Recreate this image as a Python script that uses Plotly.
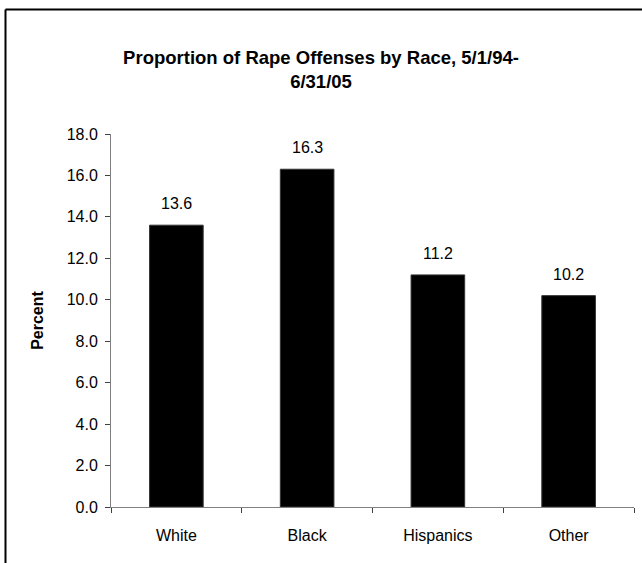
import plotly.graph_objects as go

# Data
categories = ["White", "Black", "Hispanics", "Other"]
percent = [13.6, 16.3, 11.2, 10.2]
y_ticks = [0, 2, 4, 6, 8, 10, 12, 14, 16, 18]

W, H = 642, 563
ML, MR, MT, MB = 111, 8, 134, 56
FONT = "Liberation Sans, Arial, sans-serif"

fig = go.Figure()
fig.add_trace(go.Bar(
    x=categories,
    y=percent,
    width=0.41,
    marker=dict(color="black", line=dict(color="#333333", width=1)),
    hoverinfo="x+y",
))

# value labels above each bar
for c, v in zip(categories, percent):
    fig.add_annotation(
        x=c, y=v, text=f"{v:.1f}", showarrow=False,
        yanchor="bottom", yshift=11,
        font=dict(family=FONT, size=16, color="black"),
    )

# outer chart frame (left and top edges visible)
pw = W - ML - MR
ph = H - MT - MB
x0 = (5.5 - ML) / pw
y1 = (H - MB - 9.5) / ph
fig.add_shape(type="line", xref="paper", yref="paper",
              x0=x0, x1=x0, y0=-1, y1=y1,
              line=dict(color="black", width=2))
fig.add_shape(type="line", xref="paper", yref="paper",
              x0=x0, x1=2, y0=y1, y1=y1,
              line=dict(color="black", width=2))

fig.update_layout(
    width=W, height=H,
    margin=dict(l=ML, r=MR, t=MT, b=MB, pad=0),
    paper_bgcolor="white", plot_bgcolor="white",
    showlegend=False,
    title=dict(
        text="<b>Proportion of Rape Offenses by Race, 5/1/94-<br>6/31/05</b>",
        x=0.5, xanchor="center", y=1 - 64 / H, yanchor="top",
        font=dict(family=FONT, size=18.5, color="black"),
    ),
    font=dict(family=FONT, size=16, color="black"),
    xaxis=dict(
        type="category", range=[-0.5, 3.5],
        showline=True, linecolor="#808080", linewidth=1,
        ticks="outside", tickson="boundaries", ticklen=5,
        tickcolor="#404040", tickwidth=1,
        ticklabelstandoff=14,
        showgrid=False, zeroline=False,
        tickfont=dict(family=FONT, size=16, color="black"),
    ),
    yaxis=dict(
        range=[0, 18], tickvals=y_ticks, tickformat=".1f",
        showline=True, linecolor="#808080", linewidth=1,
        ticks="outside", ticklen=5, tickcolor="#404040", tickwidth=1,
        ticklabelstandoff=4,
        showgrid=False, zeroline=False,
        tickfont=dict(family=FONT, size=16, color="black"),
        title=dict(text="<b>Percent</b>", standoff=19,
                   font=dict(family=FONT, size=16, color="black")),
    ),
)

fig.write_html("out.html")
